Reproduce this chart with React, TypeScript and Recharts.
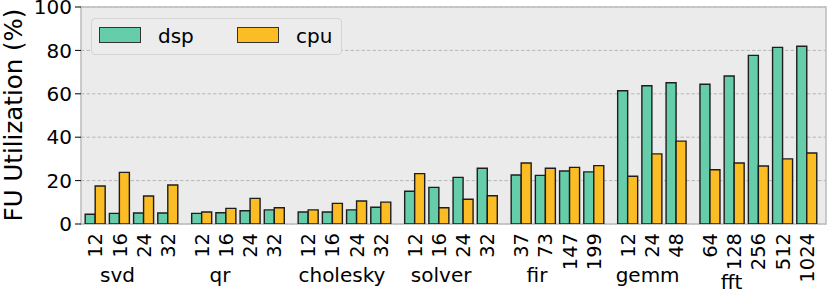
import React from 'react'
import { BarChart, Bar, XAxis, YAxis, CartesianGrid, Legend, ReferenceArea } from 'recharts'

// benchmark groups and their problem sizes
const GROUPS = ['svd', 'qr', 'cholesky', 'solver', 'fir', 'gemm', 'fft']
const SIZES = [
  ['12', '16', '24', '32'],
  ['12', '16', '24', '32'],
  ['12', '16', '24', '32'],
  ['12', '16', '24', '32'],
  ['37', '73', '147', '199'],
  ['12', '24', '48'],
  ['64', '128', '256', '512', '1024'],
]

// FU utilization (%), one value per size, in order
const DSP = [
  4.5, 4.9, 5.1, 5.1,
  4.9, 5.2, 6.1, 6.5,
  5.5, 5.5, 6.5, 7.7,
  15.1, 16.9, 21.5, 25.7,
  22.6, 22.4, 24.4, 24.0,
  61.4, 63.7, 65.1,
  64.4, 68.2, 77.7, 81.4, 81.9,
]
const CPU = [
  17.5, 23.8, 12.9, 18.0,
  5.5, 7.2, 11.8, 7.5,
  6.5, 9.5, 10.6, 10.1,
  23.2, 7.5, 11.4, 13.0,
  28.1, 25.7, 26.1, 26.9,
  22.0, 32.3, 38.2,
  25.0, 28.1, 26.7, 30.0, 32.7,
]
const Y_TICKS = [0, 20, 40, 60, 80, 100]

// layout: extra space between groups, where the group names sit, x range
const GROUP_GAP = 0.4
const LABEL_SHIFT = [0.92, 0.75, 1.39, 1.09, 0.65, 0.82, 0.89]
const LABEL_DROP = [0, 0, 0, 0, 0, 0, 7]
const X_DOMAIN = [-0.59, 30.19]

const FONT = "'DejaVu Sans', sans-serif"
const SERIES = [
  { key: 'dsp', color: '#66cdaa' },
  { key: 'cpu', color: '#fcbc23' },
]

// build the table: each size gets a slot, groups are pushed apart by GROUP_GAP
const rows: { x: number; size: string; dsp: number; cpu: number }[] = []
const groupLabelX: number[] = []
let n = 0
GROUPS.forEach((_, gi) => {
  groupLabelX.push(n + gi * GROUP_GAP + LABEL_SHIFT[gi])
  SIZES[gi].forEach((size) => {
    rows.push({ x: n + gi * GROUP_GAP, size, dsp: DSP[n], cpu: CPU[n] })
    n++
  })
})
const xTicks = rows.map((r) => r.x)

function SizeTick({ x, y, payload }: any) {
  const row = rows.find((r) => Math.abs(r.x - payload.value) < 1e-6)
  return (
    <text
      x={x}
      y={y + 9}
      transform={`rotate(-90 ${x} ${y + 9})`}
      textAnchor="end"
      dy="0.36em"
      fontSize={19.5}
      fontFamily={FONT}
      fill="#000"
    >
      {row ? row.size : ''}
    </text>
  )
}

function GroupTick({ x, y, index }: any) {
  return (
    <text x={x} y={y + 18 + LABEL_DROP[index]} textAnchor="middle" fontSize={20} fontFamily={FONT} fill="#000">
      {GROUPS[index]}
    </text>
  )
}

// legend keeps the series order (dsp, cpu) instead of recharts' sorted payload
function LegendBox() {
  return (
    <div
      style={{
        boxSizing: 'border-box',
        position: 'relative',
        width: 251,
        height: 37,
        border: '1px solid #d4d4d4',
        borderRadius: 4,
        background: '#ececec',
        fontFamily: FONT,
      }}
    >
      {SERIES.map((s, i) => (
        <React.Fragment key={s.key}>
          <span
            style={{
              position: 'absolute',
              left: 7 + i * 138,
              top: 8,
              width: 42,
              height: 16,
              boxSizing: 'border-box',
              background: s.color,
              border: '1.5px solid #333',
            }}
          />
          <span style={{ position: 'absolute', left: 66 + i * 138, top: 7, fontSize: 20, lineHeight: '20px', color: '#000' }}>
            {s.key}
          </span>
        </React.Fragment>
      ))}
    </div>
  )
}

export default function App() {
  return (
    <div style={{ position: 'absolute', left: 0, top: 0, width: 830, height: 295, background: '#fff', fontFamily: FONT }}>
      <BarChart width={830} height={295} data={rows} margin={{ top: 7, right: 4, bottom: 0, left: 0 }} barGap={0}>
        <CartesianGrid vertical={false} fill="#ebebeb" fillOpacity={1} stroke="#b8b8b8" strokeDasharray="3.5 2" />
        <XAxis
          type="number"
          dataKey="x"
          domain={X_DOMAIN}
          allowDataOverflow
          ticks={xTicks}
          interval={0}
          height={40}
          axisLine={false}
          tickLine={false}
          tickSize={0}
          tickMargin={0}
          tick={SizeTick}
        />
        <XAxis
          xAxisId={1}
          type="number"
          dataKey="x"
          domain={X_DOMAIN}
          allowDataOverflow
          ticks={groupLabelX}
          interval={0}
          height={31}
          axisLine={false}
          tickLine={false}
          tickSize={0}
          tickMargin={0}
          tick={GroupTick}
        />
        <YAxis
          domain={[0, 100]}
          allowDataOverflow
          ticks={Y_TICKS}
          interval={0}
          width={81}
          axisLine={false}
          tickLine={{ stroke: '#000', strokeWidth: 1 }}
          tickSize={6}
          tickMargin={3}
          tick={{ fill: '#000', fontSize: 20, fontFamily: FONT }}
          label={() => (
            <text transform="translate(22 115) rotate(-90)" textAnchor="middle" fontSize={24.5} fontFamily={FONT} fill="#000">
              FU Utilization (%)
            </text>
          )}
        />
        <ReferenceArea
          x1={X_DOMAIN[0]}
          x2={X_DOMAIN[1]}
          y1={0}
          y2={100}
          ifOverflow="visible"
          fill="none"
          stroke="#bdbdbd"
          strokeWidth={1.5}
        />
        <Legend
          layout="vertical"
          align="center"
          verticalAlign="middle"
          wrapperStyle={{ left: 91, top: 18, width: 251, height: 37 }}
          content={LegendBox}
        />
        {SERIES.map((s) => (
          <Bar
            key={s.key}
            dataKey={s.key}
            name={s.key}
            fill={s.color}
            stroke="#1e1e1e"
            strokeWidth={1.4}
            barSize={10}
            isAnimationActive={false}
          />
        ))}
      </BarChart>
    </div>
  )
}
